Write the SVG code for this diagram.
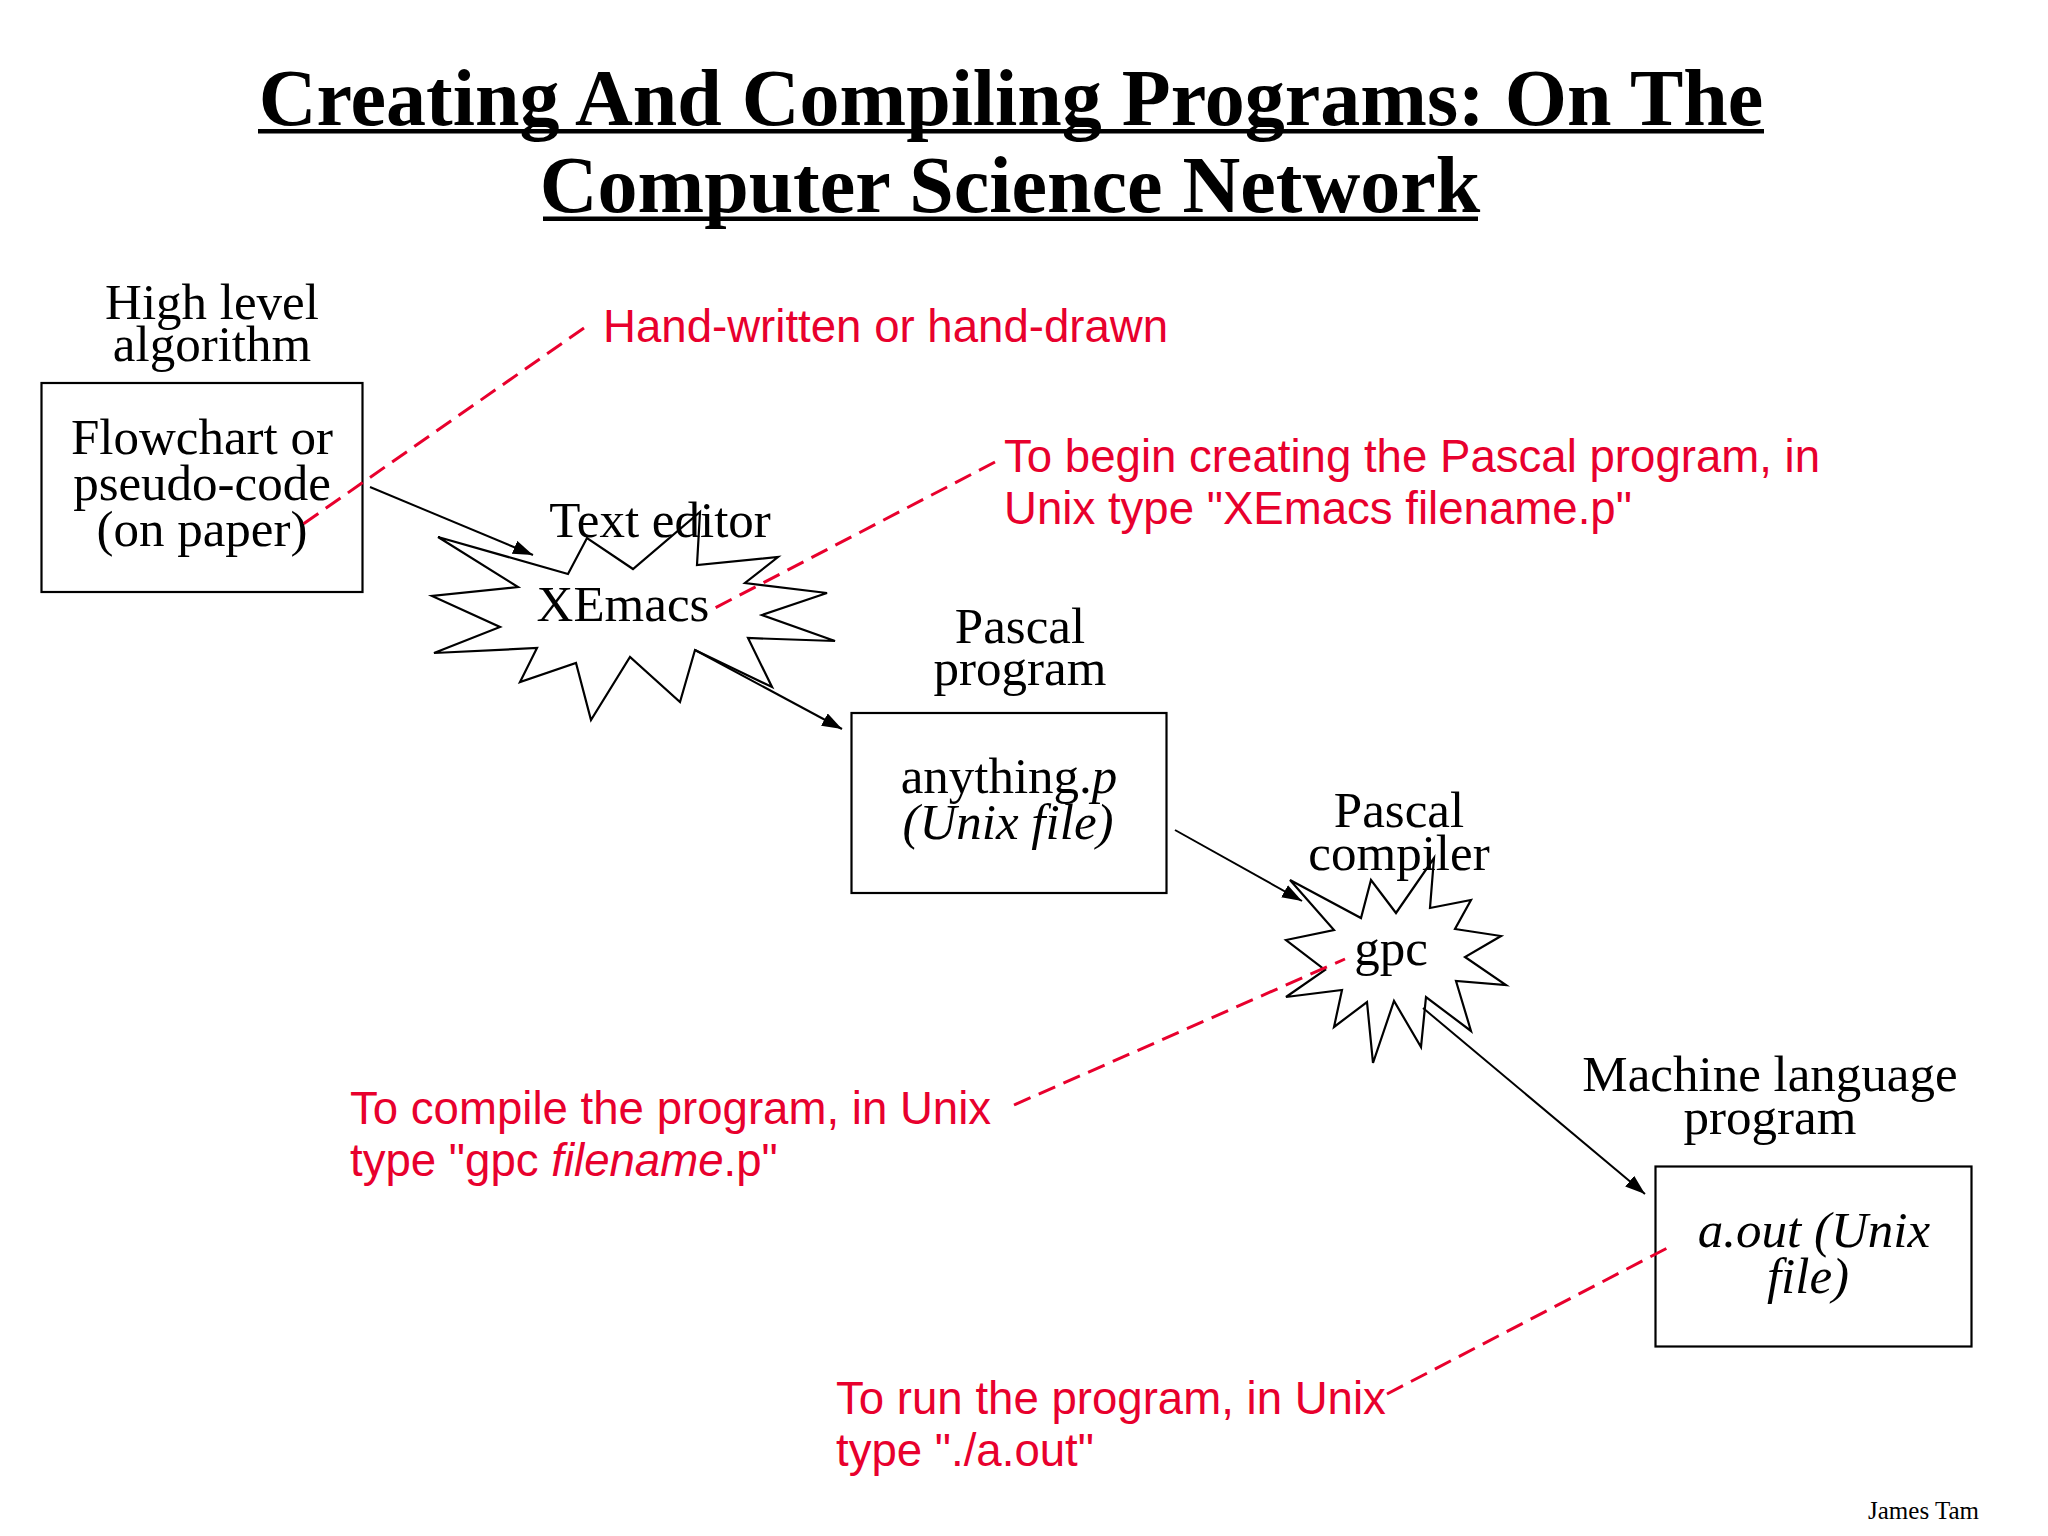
<svg xmlns="http://www.w3.org/2000/svg" width="2048" height="1536" viewBox="0 0 2048 1536">
<style>
.lbl{font-family:"Liberation Serif","Times New Roman",serif;font-size:51px;fill:#000;text-anchor:middle}
.it{font-style:italic}
.note{font-family:"Liberation Sans",Arial,sans-serif;font-size:45.6px;fill:#E8002D}
.box{fill:#fff;stroke:#000;stroke-width:2.2}
.star{fill:#fff;stroke:#000;stroke-width:2.2;stroke-linejoin:miter}
.arrow{stroke:#000;stroke-width:2;fill:none;marker-end:url(#ah)}
.dash{stroke:#E8002D;stroke-width:3;fill:none;stroke-dasharray:18 9}
.title{font-family:"Liberation Serif","Times New Roman",serif;font-size:80px;font-weight:bold;fill:#000;text-anchor:middle}
</style>
<defs>
<marker id="ah" markerWidth="22" markerHeight="16" refX="20" refY="7" orient="auto" markerUnits="userSpaceOnUse">
<path d="M0,0 L20,7 L0,14 z" fill="#000"/>
</marker>
</defs>
<rect width="2048" height="1536" fill="#fff"/>
<g id="title">
<text class="title" x="1011" y="125">Creating And Compiling Programs: On The</text>
<rect x="258" y="129" width="1506" height="4.5" fill="#000"/>
<text class="title" x="1010" y="211.5">Computer Science Network</text>
<rect x="543" y="216.5" width="935" height="4.5" fill="#000"/>
</g>
<g id="node-algorithm">
<text class="lbl" x="212" y="319">High level</text>
<text class="lbl" x="212" y="361">algorithm</text>
<rect class="box" x="41.5" y="383" width="321" height="209"/>
<text class="lbl" x="202" y="454">Flowchart or</text>
<text class="lbl" x="202" y="499.5">pseudo-code</text>
<text class="lbl" x="202" y="546">(on paper)</text>
</g>
<g id="node-xemacs">
<polygon class="star" points="438,537 568,574 587,538 633,569 700,512 697,565 778,557 745,583 827,593 762,615 835,641 748,638 772,687 695,650 680,702 630,657 591,720 576,663 520,682 537,648 434,653 500,627 432,596 518,587"/>
<text class="lbl" x="660" y="537">Text editor</text>
<text class="lbl" x="623" y="621">XEmacs</text>
</g>
<g id="node-pascal-program">
<text class="lbl" x="1020" y="642.5">Pascal</text>
<text class="lbl" x="1020" y="685">program</text>
<rect class="box" x="851.5" y="713" width="315" height="180"/>
<text class="lbl" x="1009" y="793">anything.<tspan class="it">p</tspan></text>
<text class="lbl it" x="1008" y="838.5">(Unix file)</text>
</g>
<g id="node-gpc">
<polygon class="star" points="1290,880 1361,918 1371,880 1396,913 1434,858 1430,908 1471,900 1455,929 1501,936 1465,957 1506,985 1456,981 1471,1031 1426,997 1421,1047 1394,1001 1373,1063 1367,1002 1334,1027 1342,990 1286,997 1325,970 1286,940 1334,930"/>
<text class="lbl" x="1399" y="826.5">Pascal</text>
<text class="lbl" x="1399" y="869.5">compiler</text>
<text class="lbl" x="1391" y="965">gpc</text>
</g>
<g id="node-machine-program">
<text class="lbl" x="1770" y="1091">Machine language</text>
<text class="lbl" x="1770" y="1134">program</text>
<rect class="box" x="1655.5" y="1166.5" width="316" height="180"/>
<text class="lbl it" x="1814" y="1246.5">a.out (Unix</text>
<text class="lbl it" x="1808" y="1292.5">file)</text>
</g>
<g id="notes">
<text class="note" x="603" y="341.5">Hand-written or hand-drawn</text>
<text class="note" x="1004" y="471.5">To begin creating the Pascal program, in</text>
<text class="note" x="1004" y="524">Unix type "XEmacs filename.p"</text>
<text class="note" x="350" y="1123.5">To compile the program, in Unix</text>
<text class="note" x="350" y="1175.5">type "gpc <tspan font-style="italic">filename</tspan>.p"</text>
<text class="note" x="836" y="1414">To run the program, in Unix</text>
<text class="note" x="836" y="1466">type "./a.out"</text>
</g>
<g id="connectors">
<line class="arrow" x1="370" y1="487" x2="533" y2="555"/>
<line class="arrow" x1="695" y1="650" x2="842" y2="729"/>
<line class="arrow" x1="1175" y1="830" x2="1302" y2="901"/>
<line class="arrow" x1="1423" y1="1008" x2="1645" y2="1194"/>
<line class="dash" x1="584" y1="328" x2="299" y2="527"/>
<line class="dash" x1="995" y1="462" x2="713" y2="609"/>
<line class="dash" x1="1014" y1="1105" x2="1345" y2="959"/>
<line class="dash" x1="1387" y1="1394" x2="1673" y2="1245"/>
</g>
<text x="1979" y="1519" font-family="Liberation Serif, Times New Roman, serif" font-size="25" text-anchor="end" fill="#000">James Tam</text>
</svg>
